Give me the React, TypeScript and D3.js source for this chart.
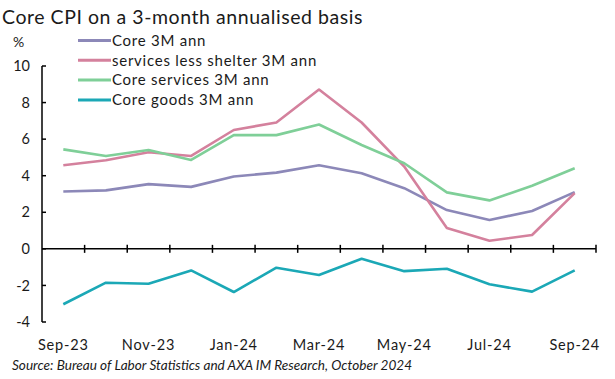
import React from "react";
import * as d3 from "d3";

const months = ["Sep-23","Oct-23","Nov-23","Dec-23","Jan-24","Feb-24","Mar-24","Apr-24","May-24","Jun-24","Jul-24","Aug-24","Sep-24"];
const coreAnn = [3.14, 3.2, 3.54, 3.39, 3.96, 4.17, 4.57, 4.14, 3.32, 2.12, 1.58, 2.07, 3.1];
const servLessShelter = [4.57, 4.85, 5.28, 5.08, 6.5, 6.91, 8.71, 6.91, 4.5, 1.14, 0.44, 0.76, 3.05];
const coreServices = [5.44, 5.08, 5.41, 4.86, 6.22, 6.22, 6.8, 5.68, 4.68, 3.09, 2.65, 3.45, 4.41];
const coreGoods = [-3.03, -1.85, -1.91, -1.18, -2.36, -1.03, -1.43, -0.54, -1.22, -1.09, -1.94, -2.34, -1.18];
const yTicks = [10, 8, 6, 4, 2, 0, -2, -4];
const xLabelMonths = ["Sep-23","Nov-23","Jan-24","Mar-24","May-24","Jul-24","Sep-24"];

const seriesNames = ["Core 3M ann", "services less shelter 3M ann", "Core services 3M ann", "Core goods 3M ann"];
const seriesData = [coreAnn, servLessShelter, coreServices, coreGoods];
const seriesColors = ["#8c88b8", "#d4819d", "#7fcf98", "#1ba8b6"];

const FONT = "Lato, 'Open Sans', sans-serif";

export default function App() {
  const W = 615, H = 379;
  const left = 42, right = 596;
  const x = d3.scaleBand<string>().domain(months).range([left, right]);
  const y = d3.scaleLinear().domain([-4, 10]).range([322, 66]);
  const cx = (m: string) => (x(m) as number) + x.bandwidth() / 2;
  const line = d3.line<number>().x((_, i) => cx(months[i])).y(d => y(d));
  const boundaries = months.map(m => x(m) as number).concat([right]);

  return (
    <svg width={W} height={H} style={{ position: "absolute", left: 0, top: 0, background: "#fff" }}>
      <text x={2} y={24} fontFamily={FONT} fontSize={19.5} letterSpacing={0.55} fill="#1a1a1a">Core CPI on a 3-month annualised basis</text>
      <text x={13} y={47} fontFamily={FONT} fontSize={14} fill="#1a1a1a">%</text>
      {/* y axis */}
      <line x1={left} x2={left} y1={y(10)} y2={y(-4)} stroke="#000" strokeWidth={1.5} />
      {yTicks.map(t => (
        <g key={t}>
          <line x1={left} x2={left + 4} y1={y(t)} y2={y(t)} stroke="#000" strokeWidth={1.5} />
          <text x={30} y={y(t)} dy="0.35em" textAnchor="end" fontFamily={FONT} fontSize={14.5} fill="#1a1a1a">{t}</text>
        </g>
      ))}
      {/* x axis at 0 */}
      <line x1={left} x2={right} y1={y(0)} y2={y(0)} stroke="#000" strokeWidth={1.5} />
      {boundaries.slice(1).map((b, i) => (
        <line key={i} x1={b} x2={b} y1={y(0) - 4} y2={y(0) + 4} stroke="#000" strokeWidth={1.5} />
      ))}
      {xLabelMonths.map(m => (
        <text key={m} x={cx(m)} y={350} textAnchor="middle" fontFamily={FONT} fontSize={14.5} letterSpacing={0.8} fill="#1a1a1a">{m}</text>
      ))}
      {seriesData.map((d, i) => (
        <path key={i} d={line(d) as string} fill="none" stroke={seriesColors[i]} strokeWidth={2.6} strokeLinejoin="round" />
      ))}
      {/* legend */}
      {seriesNames.map((n, i) => (
        <g key={n} transform={`translate(0, ${40.5 + i * 19.8})`}>
          <line x1={78} x2={111} y1={0} y2={0} stroke={seriesColors[i]} strokeWidth={3} />
          <text x={112} y={0} dy="0.35em" fontFamily={FONT} fontSize={15} letterSpacing={0.75} fill="#1a1a1a">{n}</text>
        </g>
      ))}
      <text x={12} y={370} fontFamily={FONT} fontSize={13.6} fontStyle="italic" fill="#1a1a1a">Source: Bureau of Labor Statistics and AXA IM Research, October 2024</text>
    </svg>
  );
}
